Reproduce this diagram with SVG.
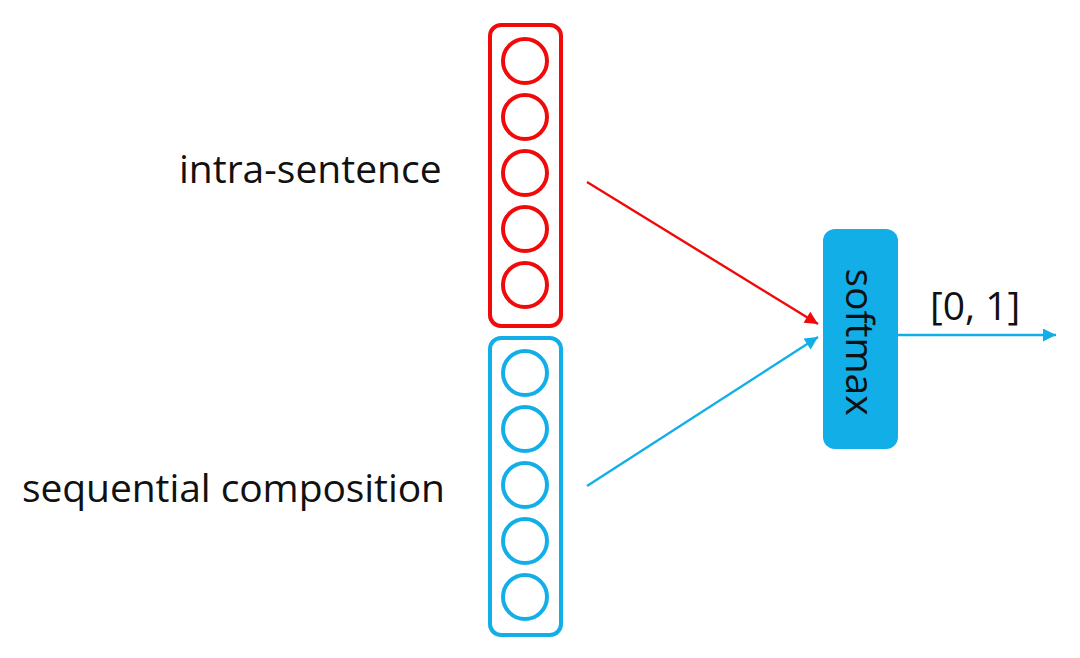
<svg xmlns="http://www.w3.org/2000/svg" width="1080" height="658" viewBox="0 0 1080 658">
<defs>
<style>
.lbl{font-family:"Open Sans","Liberation Sans",sans-serif;font-size:39px;fill:#111}
.red{stroke:#f00a0a;fill:none;stroke-width:4}
.blue{stroke:#12aee8;fill:none;stroke-width:4}
.cr{stroke:#f00a0a;fill:none;stroke-width:4}
.cb{stroke:#12aee8;fill:none;stroke-width:4}
</style>
<marker id="ahR" viewBox="0 0 10 10" refX="10" refY="5" markerWidth="16" markerHeight="13" markerUnits="userSpaceOnUse" orient="auto"><path d="M0,0 L10,5 L0,10 Z" fill="#f00a0a"/></marker>
<marker id="ahB" viewBox="0 0 10 10" refX="10" refY="5" markerWidth="16" markerHeight="13" markerUnits="userSpaceOnUse" orient="auto"><path d="M0,0 L10,5 L0,10 Z" fill="#12aee8"/></marker>
</defs>
<rect width="1080" height="658" fill="#fff"/>
<g id="intra-sentence">
<rect class="red" x="490" y="25" width="71" height="301" rx="11"/>
<circle class="cr" cx="525" cy="61" r="22"/>
<circle class="cr" cx="525" cy="117" r="22"/>
<circle class="cr" cx="525" cy="173" r="22"/>
<circle class="cr" cx="525" cy="229" r="22"/>
<circle class="cr" cx="525" cy="285" r="22"/>
<text class="lbl" x="179" y="183">intra-sentence</text>
</g>
<g id="sequential-composition">
<rect class="blue" x="490" y="338" width="71" height="297" rx="11"/>
<circle class="cb" cx="525" cy="373" r="22"/>
<circle class="cb" cx="525" cy="429" r="22"/>
<circle class="cb" cx="525" cy="485" r="22"/>
<circle class="cb" cx="525" cy="541" r="22"/>
<circle class="cb" cx="525" cy="597" r="22"/>
<text class="lbl" x="22" y="502" textLength="423">sequential composition</text>
</g>
<g id="softmax">
<rect x="823" y="229" width="75" height="220" rx="12" fill="#12aee8"/>
<text class="lbl" transform="translate(846,342) rotate(90)" text-anchor="middle" x="0" y="0">softmax</text>
</g>
<g id="connectors">
<line x1="587" y1="182" x2="818" y2="324" stroke="#f00a0a" stroke-width="2.4" marker-end="url(#ahR)"/>
<line x1="587" y1="486" x2="818" y2="337" stroke="#12aee8" stroke-width="2.4" marker-end="url(#ahB)"/>
<line x1="898" y1="335" x2="1056" y2="335" stroke="#12aee8" stroke-width="2.4" marker-end="url(#ahB)"/>
<text class="lbl" x="930" y="320">[0, 1]</text>
</g>
</svg>
